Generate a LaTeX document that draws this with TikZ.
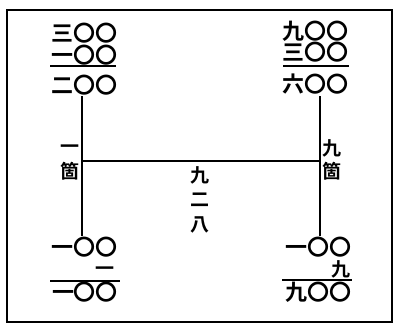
\documentclass[tikz,border=0pt]{standalone}
\usepackage{fontspec}
\newfontfamily\cjk{Noto Sans CJK JP Bold}
\newcommand\numfont{\fontsize{22}{22}\selectfont\cjk}
\newcommand\labfont{\fontsize{19}{19}\selectfont\cjk}
\begin{document}
\begin{tikzpicture}[x=1pt,y=-1pt,
  num/.style={inner sep=0pt,font=\numfont},
  lab/.style={inner sep=0pt,font=\labfont},
  rule/.style={line width=1.3pt},
  frame/.style={line width=2pt}]
\useasboundingbox (0,0) rectangle (394,325);
\draw[frame] (7,10) rectangle (392,322);
% top left
\node[num] (tl1) at (84,33) {三〇〇};
\node[num] (tl2) at (84,55) {一〇〇};
\node[num] (tl3) at (84,85) {二〇〇};
\coordinate (tlA) at (50,66);
\coordinate (tlB) at (116,66);
\draw[rule] (tlA) -- (tlB);
% top right
\node[num] (tr1) at (315,31) {九〇〇};
\node[num] (tr2) at (315,52) {三〇〇};
\node[num] (tr3) at (315,84) {六〇〇};
\coordinate (trA) at (283,66);
\coordinate (trB) at (349,66);
\draw[rule] (trA) -- (trB);
% bottom left
\node[num] (bl1) at (84,247) {一〇〇};
\node[lab] (bl2) at (105,271) {一};
\node[num] (bl3) at (85,292) {一〇〇};
\coordinate (blA) at (50,281);
\coordinate (blB) at (120,281);
\draw[rule] (blA) -- (blB);
% bottom right
\node[num] (br1) at (318,247) {一〇〇};
\node[lab] (br2) at (341,269) {九};
\node[num] (br3) at (318,292) {九〇〇};
\coordinate (brA) at (282,280);
\coordinate (brB) at (352,280);
\draw[rule] (brA) -- (brB);
% verticals
\coordinate (lt) at (82,96);
\coordinate (lb) at (82,236);
\coordinate (rt) at (320,96);
\coordinate (rb) at (320,236);
\draw[rule] (lt) -- (lb);
\draw[rule] (rt) -- (rb);
\coordinate (h1) at (82,161);
\coordinate (h2) at (320,161);
\draw[rule] (h1) -- (h2);
% side labels
\node[lab] (l1) at (70,149) {一};
\node[lab] (l2) at (70,171) {箇};
\node[lab] (r1) at (332,148) {九};
\node[lab] (r2) at (332,171) {箇};
% center
\node[lab] (c1) at (200,175) {九};
\node[lab] (c2) at (200,200) {二};
\node[lab] (c3) at (200,225) {八};
\end{tikzpicture}
\end{document}
